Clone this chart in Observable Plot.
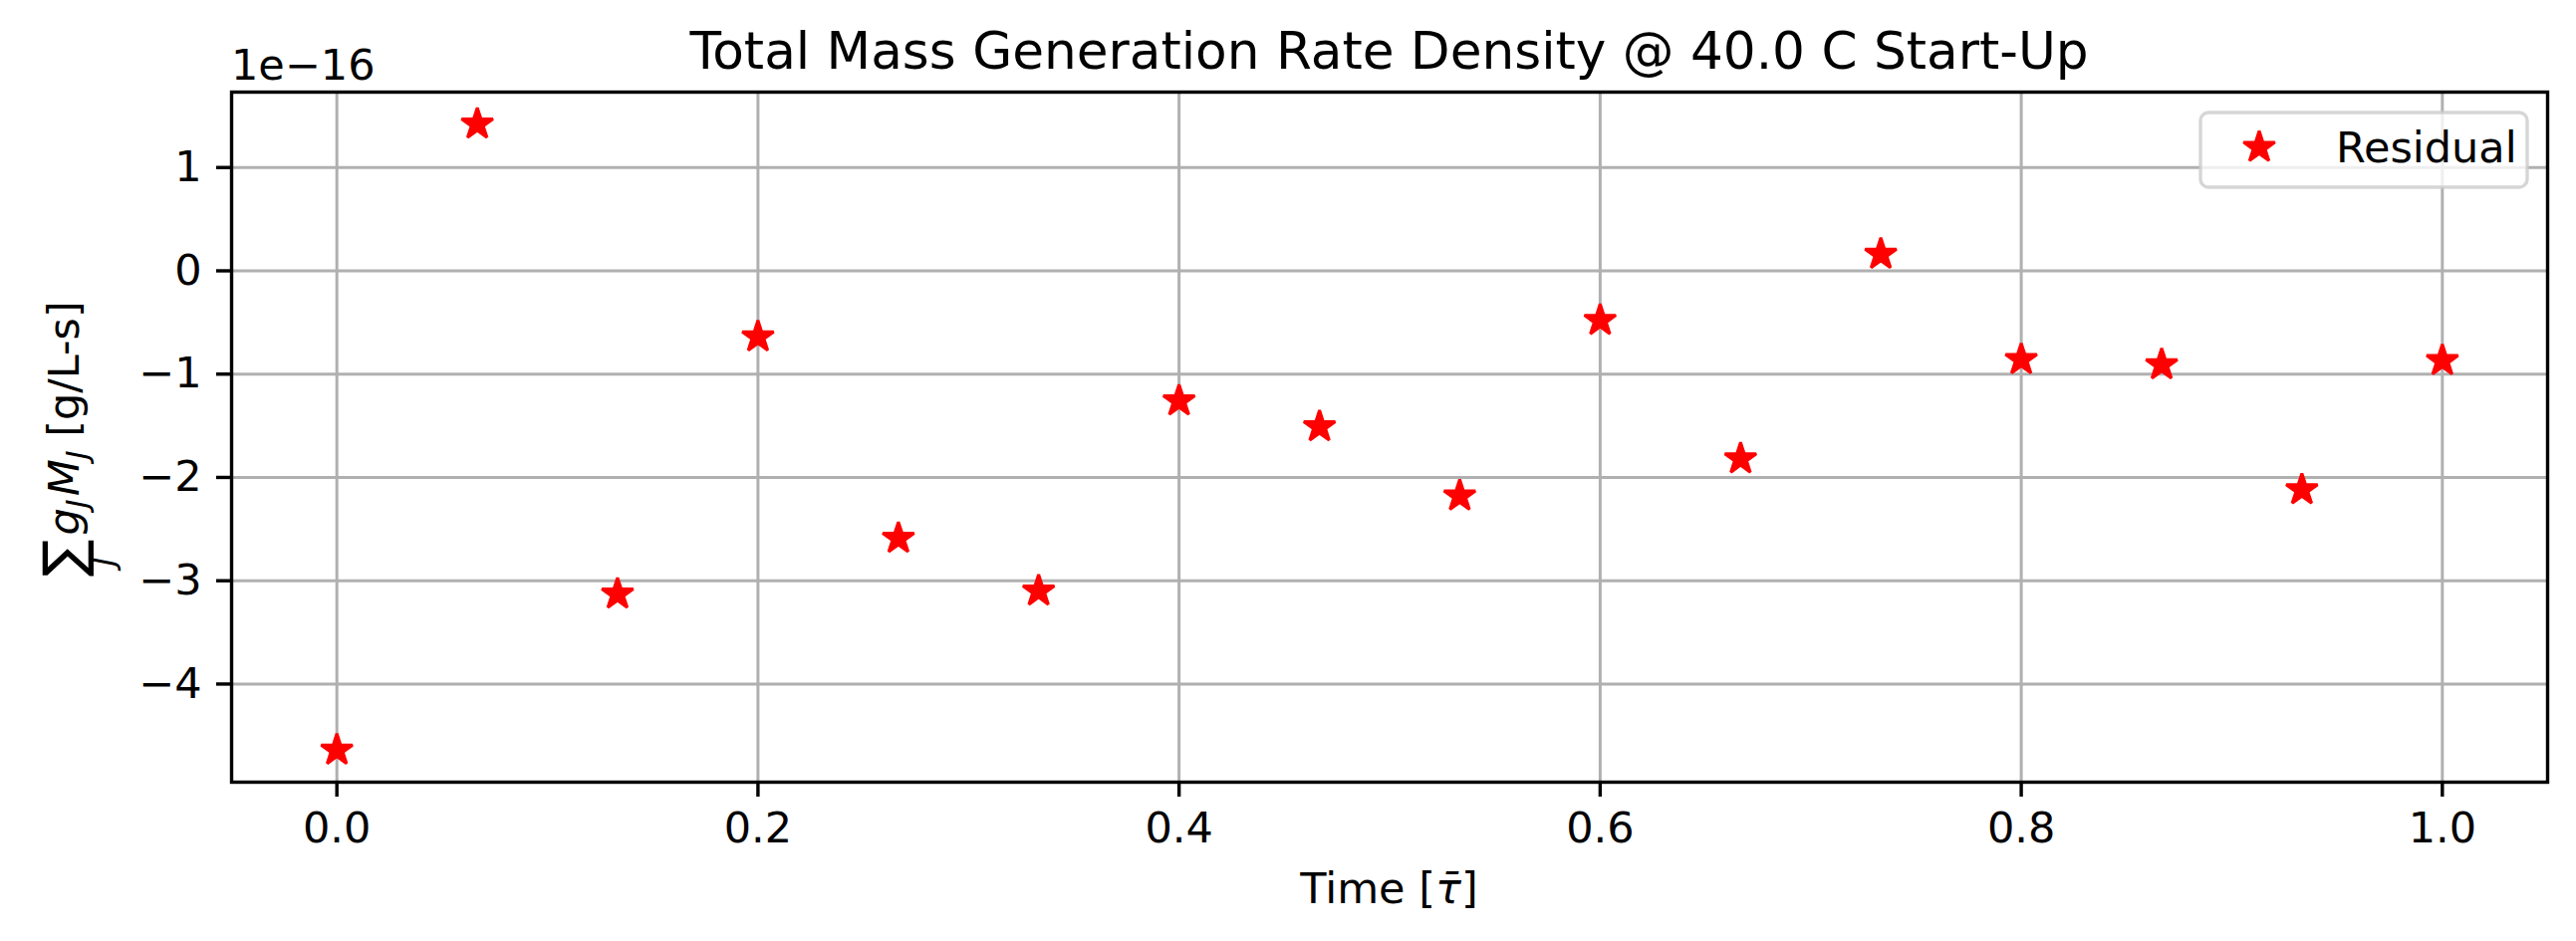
<!DOCTYPE html>
<html><head><meta charset="utf-8">
<script src="https://cdn.jsdelivr.net/npm/d3@7"></script>
<script src="https://cdn.jsdelivr.net/npm/@observablehq/plot@0.6"></script>
<style>html,body{margin:0;padding:0;background:#fff;} svg{display:block}</style>
</head><body><div id="chart"></div>
<script>
// ---- data ----
const time = [0, 0.0667, 0.1333, 0.2, 0.2667, 0.3333, 0.4, 0.4667, 0.5333, 0.6, 0.6667, 0.7333, 0.8, 0.8667, 0.9333, 1.0];
const residual = [-4.64e-16, 1.42e-16, -3.13e-16, -0.64e-16, -2.59e-16, -3.10e-16, -1.26e-16, -1.51e-16, -2.18e-16, -0.48e-16, -1.82e-16, 0.16e-16, -0.86e-16, -0.91e-16, -2.12e-16, -0.87e-16];
const xTicks = [0, 0.2, 0.4, 0.6, 0.8, 1.0];
const yTicks = [-4e-16, -3e-16, -2e-16, -1e-16, 0, 1e-16];
const yOffsetLabel = "1e\u221216";
const seriesName = "Residual";
const titleText = "Total Mass Generation Rate Density @ 40.0 C Start-Up";
const xLabelText = "Time [";

const data = time.map((t, i) => ({time: t, residual: residual[i]}));

const W = 2586, H = 945;
const mL = 232, mR = 29, mT = 92, mB = 160;
const FONT = "'DejaVu Sans', sans-serif";
const LW = 3.4;
const FS = 43;

const svg = Plot.plot({
  width: W, height: H,
  marginLeft: mL, marginRight: mR, marginTop: mT, marginBottom: mB,
  style: {fontFamily: FONT, fontSize: FS + "px", background: "white", color: "black", overflow: "visible"},
  x: {domain: [-0.05, 1.05], label: null},
  y: {domain: [-4.95e-16, 1.73e-16], label: null},
  marks: [
    Plot.gridX(xTicks, {stroke: "#b0b0b0", strokeOpacity: 1, strokeWidth: 3}),
    Plot.gridY(yTicks, {stroke: "#b0b0b0", strokeOpacity: 1, strokeWidth: 3}),
    Plot.dot(data, {x: "time", y: "residual", symbol: "star", r: 9.9, fill: "red", stroke: "red", strokeWidth: 3, strokeLinejoin: "bevel"}),
    Plot.axisX(xTicks, {tickSize: 15, tickPadding: 15, strokeWidth: LW, fontSize: FS, tickFormat: d3.format(".1f"), label: null}),
    Plot.axisY(yTicks, {tickSize: 15, tickPadding: 15, strokeWidth: LW, fontSize: FS, tickFormat: d => d3.format("d")(Math.round(d / 1e-16)), label: null}),
    Plot.frame({stroke: "black", strokeWidth: LW})
  ]
});
document.getElementById("chart").appendChild(svg);

const s = d3.select(svg);
const cx = (mL + (W - mR)) / 2;
const cy = (mT + (H - mB)) / 2;

// title
s.append("text").attr("x", cx).attr("y", 69).attr("text-anchor", "middle")
  .attr("font-size", 51.7).attr("font-family", FONT).attr("fill", "black").text(titleText);

// offset text
s.append("text").attr("x", mL).attr("y", 80).attr("font-size", FS).attr("text-anchor", "start")
  .attr("font-family", FONT).attr("fill", "black").text(yOffsetLabel);

// x label
const xl = s.append("text").attr("x", cx).attr("y", 907).attr("text-anchor", "middle")
  .attr("font-size", FS).attr("font-family", FONT).attr("fill", "black");
xl.append("tspan").text(xLabelText);
xl.append("tspan").attr("font-style", "italic").text("\u03C4\u0304");
xl.append("tspan").text("]");

// y label (rotated, math-like)
const yg = s.append("g").attr("transform", `translate(79,${cy}) rotate(-90)`)
  .attr("font-family", FONT).attr("fill", "black").attr("text-anchor", "start");
yg.append("text").attr("x", -141).attr("y", 4).attr("font-size", 56).text("\u2211");
yg.append("text").attr("x", -130).attr("y", 36).attr("font-size", 30).attr("font-style", "italic").text("J");
const ym = yg.append("text").attr("x", -99).attr("y", 0).attr("font-size", FS);
ym.append("tspan").attr("font-style", "italic").text("g");
ym.append("tspan").attr("font-style", "italic").attr("font-size", 30).attr("dy", 9).text("J");
ym.append("tspan").attr("font-style", "italic").attr("dy", -9).attr("dx", 3).text("M");
ym.append("tspan").attr("font-style", "italic").attr("font-size", 30).attr("dy", 9).text("J");
ym.append("tspan").attr("dy", -9).text(" [g/L-s]");

// legend
const lg = s.append("g").attr("text-anchor", "start");
lg.append("rect").attr("x", 2209).attr("y", 113).attr("width", 328).attr("height", 75).attr("rx", 8)
  .attr("fill", "white").attr("fill-opacity", 0.8).attr("stroke", "#cccccc").attr("stroke-opacity", 0.8).attr("stroke-width", LW);
lg.append("path").attr("transform", "translate(2268,148)")
  .attr("d", d3.symbol(d3.symbolStar, Math.PI * 9.9 * 9.9)())
  .attr("fill", "red").attr("stroke", "red").attr("stroke-width", 3).attr("stroke-linejoin", "bevel");
lg.append("text").attr("x", 2345).attr("y", 163).attr("font-size", FS).attr("font-family", FONT)
  .attr("fill", "black").text(seriesName);
</script>
</body></html>
